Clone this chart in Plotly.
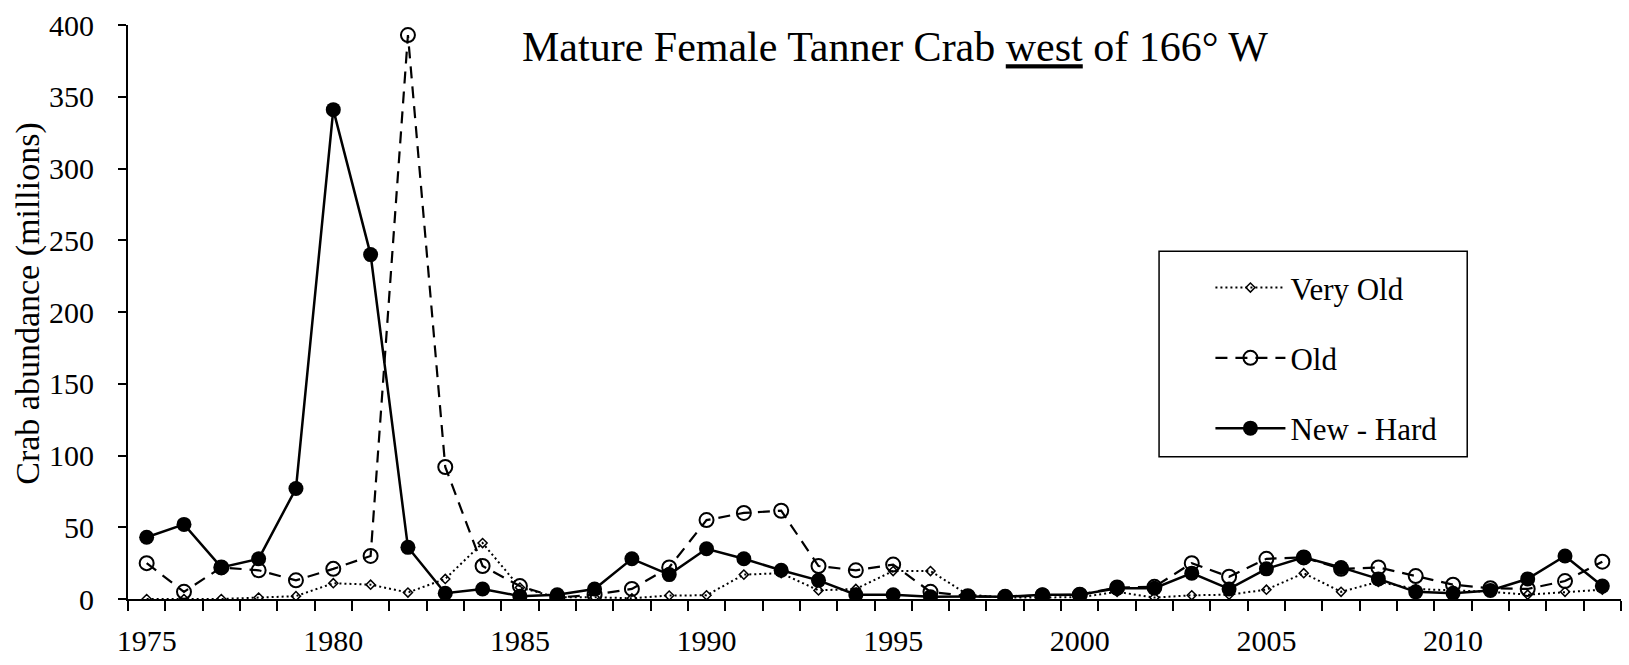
import plotly.graph_objects as go

# Survey years and abundance (millions of crabs) by shell condition
years = list(range(1975, 2015))

very_old = [0, 0, 0, 1, 2, 11, 10, 4.5, 14, 39,
            8, 1.2, 1.2, 0.5, 2.4, 2.6, 17, 18, 6, 7,
            19.5, 19.5, 3, 1, 1.2, 1.2, 5, 1, 2.6, 3,
            6.5, 18, 5, 12, 7, 6, 5, 3, 5, 6.5]

old = [25, 5, 22, 20, 13, 21, 30, 393, 92, 23,
       9, 1, 3, 7, 22, 55, 60, 61.5, 23, 20,
       24, 5, 2, 1.5, 2.5, 3, 8, 8.5, 25, 15.5,
       28, 29, 21, 22, 16, 10, 7.5, 7, 12.5, 26]

new_hard = [43, 52, 22, 28, 77, 341, 240, 36, 4, 7,
            2, 3, 7, 28, 17, 35, 28, 20, 13, 3,
            3, 1.5, 1.7, 1.5, 3, 3, 7.5, 7.5, 18, 7,
            21, 29, 22, 14, 5, 4, 6, 14, 30, 9]

label_years = [1975, 1980, 1985, 1990, 1995, 2000, 2005, 2010]
y_ticks = [0, 50, 100, 150, 200, 250, 300, 350, 400]

FONT = "Liberation Serif, Times New Roman, serif"

fig = go.Figure()

fig.add_trace(go.Scatter(
    x=years, y=very_old, name="Very Old", mode="lines+markers",
    legendgroup="a",
    line=dict(color="black", width=2, dash="2px,3px"),
    marker=dict(symbol="diamond-open", size=7, color="black",
                line=dict(width=1.5, color="black")),
))
fig.add_trace(go.Scatter(
    x=years, y=old, name="Old", mode="lines+markers",
    legendgroup="b",
    line=dict(color="black", width=2.2, dash="12px,8px"),
    marker=dict(symbol="circle-open", size=14, color="black",
                line=dict(width=2, color="black")),
))
fig.add_trace(go.Scatter(
    x=years, y=new_hard, name="New - Hard", mode="lines+markers",
    legendgroup="c",
    line=dict(color="black", width=2.5),
    marker=dict(symbol="circle", size=15, color="black"),
))

# legend frame
fig.add_shape(type="rect", xref="paper", yref="paper",
              x0=0.6906, x1=0.8970, y0=0.2480, y1=0.6058,
              line=dict(color="black", width=1.5), fillcolor="rgba(0,0,0,0)")

# vertical axis title
fig.add_annotation(
    text="Crab abundance (millions)", textangle=-90,
    xref="paper", yref="paper", x=-0.0672, y=0.5155,
    xanchor="center", yanchor="middle", showarrow=False,
    font=dict(family=FONT, size=34, color="black"),
)

fig.update_layout(
    width=1629, height=665,
    margin=dict(l=128, r=8, t=23, b=55),
    paper_bgcolor="white", plot_bgcolor="white",
    font=dict(family=FONT, color="black", size=30),
    showlegend=True,
    legend=dict(x=0.725, y=0.589, xanchor="left", yanchor="top",
                bgcolor="rgba(0,0,0,0)", borderwidth=0,
                font=dict(family=FONT, size=31, color="black"),
                itemwidth=70,
                tracegroupgap=27, traceorder="grouped"),
    title=dict(
        text='Mature Female Tanner Crab <span style="text-decoration:underline">west</span> of 166° W',
        x=0.5494, xanchor="center", y=0.93, yanchor="middle",
        font=dict(family=FONT, size=42, color="black")),
    xaxis=dict(
        range=[1974.5, 2014.5], tickmode="array", tickvals=label_years,
        ticktext=[str(v) for v in label_years], ticks="",
        showline=True, linecolor="black", linewidth=2,
        showgrid=False, zeroline=False,
        tickfont=dict(family=FONT, size=30, color="black"),
        ticklabelstandoff=14,
        minor=dict(tickmode="linear", tick0=1974.5, dtick=1,
                   ticks="outside", ticklen=10, tickwidth=2,
                   tickcolor="black", showgrid=False),
    ),
    yaxis=dict(
        range=[0, 400], tickmode="array", tickvals=y_ticks,
        ticks="outside", ticklen=8, tickwidth=2, tickcolor="black",
        showline=True, linecolor="black", linewidth=2,
        showgrid=False, zeroline=False,
        tickfont=dict(family=FONT, size=30, color="black"),
        ticklabelstandoff=18,
    ),
)

fig.write_html("out.html")
